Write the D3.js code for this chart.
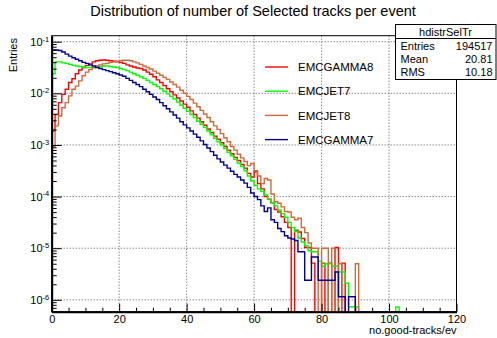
<!DOCTYPE html>
<html>
<head>
<meta charset="utf-8">
<script src="https://cdn.jsdelivr.net/npm/d3@7"></script>
<style>
  body { margin: 0; background: #fff; }
  svg { display: block; font-family: "Liberation Sans", Arial, Helvetica, sans-serif; }
</style>
</head>
<body>
<svg id="chart" width="497" height="338"></svg>
<script>
// bin contents (bin width 1, bins start at 0); bins past the end of a list are empty
const emcGamma8 = [0.00186, 0.00389, 0.00661, 0.00955, 0.0120, 0.0162, 0.0191, 0.0240, 0.0282, 0.0316,
  0.0347, 0.0372, 0.0407, 0.0427, 0.0437, 0.0442, 0.0437, 0.0427, 0.0417, 0.0407,
  0.0398, 0.0380, 0.0355, 0.0339, 0.0324, 0.0309, 0.0302, 0.0282, 0.0257, 0.0234,
  0.0209, 0.0182, 0.0162, 0.0141, 0.0123, 0.0107, 0.00933, 0.00813, 0.00708, 0.00617,
  0.00537, 0.00457, 0.00389, 0.00331, 0.00282, 0.00240, 0.00204, 0.00174, 0.00148, 0.00129,
  0.00110, 9.33e-4, 7.94e-4, 6.76e-4, 5.75e-4, 5.01e-4, 4.17e-4, 3.55e-4, 2.82e-4, 2.40e-4,
  3.02e-4, 1.78e-4, 1.41e-4, 1.0e-4, 8.91e-5, 7.59e-5, 5.62e-5, 5.01e-5, 4.07e-5, 3.16e-5,
  2.51e-5, 0, 2.24e-5, 2.06e-5, 1.54e-5, 1.03e-5, 1.03e-5, 5.14e-6, 0, 0,
  5.14e-6, 0, 5.14e-6, 0, 1.03e-5, 0, 5.14e-6];

const emcJet7 = [0.0240, 0.0407, 0.0407, 0.0389, 0.0380, 0.0363, 0.0347, 0.0339, 0.0331, 0.0324,
  0.0316, 0.0316, 0.0316, 0.0324, 0.0331, 0.0339, 0.0339, 0.0331, 0.0324, 0.0316,
  0.0302, 0.0288, 0.0275, 0.0257, 0.0240, 0.0224, 0.0209, 0.0195, 0.0178, 0.0162,
  0.0148, 0.0135, 0.0123, 0.0110, 0.00977, 0.00871, 0.00776, 0.00676, 0.00589, 0.00513,
  0.00447, 0.00389, 0.00339, 0.00288, 0.00251, 0.00219, 0.00186, 0.00158, 0.00135, 0.00115,
  0.00100, 8.51e-4, 7.24e-4, 6.17e-4, 5.25e-4, 4.47e-4, 3.80e-4, 3.16e-4, 2.51e-4, 2.0e-4,
  1.66e-4, 1.41e-4, 1.26e-4, 1.07e-4, 8.91e-5, 7.59e-5, 6.61e-5, 5.50e-5, 4.68e-5, 3.98e-5,
  3.16e-5, 2.51e-5, 2.09e-5, 1.58e-5, 1.32e-5, 1.12e-5, 8.91e-6, 8.51e-6, 8.51e-6, 5.62e-6,
  4.47e-6, 5.01e-6, 5.01e-6, 4.47e-6, 4.47e-6, 3.47e-6, 3.47e-6, 2.09e-6, 7.24e-7, 7.24e-7,
  7.24e-7, 0, 0, 0, 0, 0, 0, 0, 0, 0,
  0, 0, 7.24e-7];

const emcJet8 = [9.33e-4, 0.00234, 0.00363, 0.00525, 0.00661, 0.00891, 0.0120, 0.0138, 0.0174, 0.0219,
  0.0257, 0.0288, 0.0316, 0.0339, 0.0355, 0.0372, 0.0380, 0.0398, 0.0407, 0.0417,
  0.0427, 0.0437, 0.0437, 0.0427, 0.0407, 0.0389, 0.0363, 0.0339, 0.0316, 0.0295,
  0.0269, 0.0245, 0.0224, 0.0204, 0.0186, 0.0166, 0.0148, 0.0132, 0.0115, 0.0100,
  0.00871, 0.00759, 0.00646, 0.00550, 0.00468, 0.00398, 0.00339, 0.00282, 0.00234, 0.00200,
  0.00166, 0.00138, 0.00115, 9.33e-4, 7.94e-4, 6.61e-4, 5.62e-4, 4.79e-4, 3.98e-4, 4.37e-4,
  3.16e-4, 2.51e-4, 1.78e-4, 2.24e-4, 2.09e-4, 1.12e-4, 7.94e-5, 7.41e-5, 6.31e-5, 5.13e-5,
  5.01e-5, 3.98e-5, 3.55e-5, 3.80e-5, 2.51e-5, 2.0e-5, 1.26e-5, 1.0e-5, 1.0e-5, 0,
  1.0e-5, 1.0e-5, 0, 1.0e-5, 0, 5.0e-6, 0, 0, 0, 0,
  5.0e-6];

const emcGamma7 = [0.0692, 0.0692, 0.0676, 0.0631, 0.0575, 0.0525, 0.0490, 0.0457, 0.0427, 0.0398,
  0.0380, 0.0355, 0.0339, 0.0316, 0.0302, 0.0288, 0.0275, 0.0263, 0.0251, 0.0240,
  0.0226, 0.0214, 0.0195, 0.0178, 0.0162, 0.0148, 0.0135, 0.0120, 0.0107, 0.00955,
  0.00851, 0.00759, 0.00661, 0.00575, 0.00501, 0.00437, 0.00380, 0.00331, 0.00282, 0.00245,
  0.00214, 0.00186, 0.00162, 0.00141, 0.00120, 0.00102, 8.71e-4, 7.41e-4, 6.31e-4, 5.37e-4,
  4.68e-4, 4.07e-4, 3.55e-4, 3.09e-4, 2.69e-4, 2.40e-4, 2.09e-4, 1.82e-4, 1.51e-4, 1.17e-4,
  1.0e-4, 8.71e-5, 6.61e-5, 5.13e-5, 6.03e-5, 3.55e-5, 3.16e-5, 2.40e-5, 2.09e-5, 1.74e-5,
  1.58e-5, 1.51e-5, 1.41e-5, 8.51e-6, 8.51e-6, 2.40e-6, 2.40e-6, 6.76e-6, 6.76e-6, 2.40e-6,
  2.40e-6, 2.40e-6, 2.40e-6, 2.40e-6, 3.47e-6, 1.15e-6, 1.15e-6, 0, 1.15e-6, 1.15e-6];

const seriesNames = ["EMCGAMMA8", "EMCJET7", "EMCJET8", "EMCGAMMA7"];
const seriesData = [emcGamma8, emcJet7, emcJet8, emcGamma7];
const seriesColors = ["#ff0000", "#00ff00", "#d06a3a", "#000099"];

const nBins = 120;
const xMajor = [0, 20, 40, 60, 80, 100, 120];
const xMinor = [5, 10, 15, 25, 30, 35, 45, 50, 55, 65, 70, 75, 85, 90, 95, 105, 110, 115];
const yMajor = [1e-6, 1e-5, 1e-4, 1e-3, 1e-2, 1e-1];

const statsTitle = "hdistrSelTr";
const statsRows = [["Entries", "194517"], ["Mean", "20.81"], ["RMS", "10.18"]];

const svg = d3.select("#chart");
const frame = { left: 51.7, right: 456.5, top: 35.7, bottom: 311.7 };

const x = d3.scaleLinear().domain([0, nBins]).range([frame.left, frame.right]);
const y = d3.scaleLog().domain([Math.pow(10, -6.23), Math.pow(10, -0.884)]).range([frame.bottom, frame.top]);

// title
svg.append("text")
  .attr("x", 253).attr("y", 16)
  .attr("text-anchor", "middle")
  .attr("font-size", 14.5)
  .text("Distribution of number of Selected tracks per event");

// grid
const grid = svg.append("g").attr("stroke", "#555").attr("stroke-dasharray", "1,2").attr("stroke-width", 1);
grid.selectAll(".gx").data(xMajor.filter(d => d > 0 && d < nBins)).enter().append("line")
  .attr("x1", d => x(d)).attr("x2", d => x(d))
  .attr("y1", frame.top).attr("y2", frame.bottom);
grid.selectAll(".gy").data(yMajor).enter().append("line")
  .attr("x1", frame.left).attr("x2", frame.right)
  .attr("y1", d => y(d)).attr("y2", d => y(d));

// frame
svg.append("rect")
  .attr("x", frame.left).attr("y", frame.top)
  .attr("width", frame.right - frame.left).attr("height", frame.bottom - frame.top)
  .attr("fill", "none").attr("stroke", "#000").attr("stroke-width", 1);

// histograms
svg.append("clipPath").attr("id", "plotclip").append("rect")
  .attr("x", frame.left).attr("y", frame.top - 1)
  .attr("width", frame.right - frame.left).attr("height", frame.bottom - frame.top + 1);

const step = d3.line()
  .x(d => x(d[0]))
  .y(d => d[1] > 0 ? y(d[1]) : frame.bottom)
  .curve(d3.curveStepAfter);

seriesData.forEach((vals, k) => {
  const pts = d3.range(nBins).map(i => [i, vals[i] || 0]);
  pts.push([nBins, pts[nBins - 1][1]]);
  svg.append("path")
    .attr("clip-path", "url(#plotclip)")
    .attr("d", step(pts))
    .attr("fill", "none")
    .attr("stroke", seriesColors[k])
    .attr("stroke-width", 1.4);
});

// x axis
const xAxis = svg.append("g").attr("transform", `translate(0,${frame.bottom})`)
  .call(d3.axisBottom(x).tickValues(xMajor).tickSize(-8).tickSizeOuter(0).tickPadding(4).tickFormat(d3.format("d")));
svg.append("g").attr("transform", `translate(0,${frame.bottom})`)
  .call(d3.axisBottom(x).tickValues(xMinor).tickSize(-4).tickSizeOuter(0).tickFormat(""))
  .select(".domain").remove();
xAxis.select(".domain").attr("stroke-width", 2);
xAxis.selectAll("text").attr("font-size", 11).attr("font-family", "Liberation Sans, Arial, sans-serif").attr("fill", "#000");

// y axis (log)
const yMinor = [];
for (let e = -7; e <= -1; e++) for (let m = 2; m <= 9; m++) {
  const v = m * Math.pow(10, e);
  if (v >= y.domain()[0] && v <= y.domain()[1]) yMinor.push(v);
}
const yAxis = svg.append("g").attr("transform", `translate(${frame.left},0)`)
  .call(d3.axisLeft(y).tickValues(yMajor).tickSize(-10).tickSizeOuter(0).tickPadding(2.5));
svg.append("g").attr("transform", `translate(${frame.left},0)`)
  .call(d3.axisLeft(y).tickValues(yMinor).tickSize(-5).tickSizeOuter(0).tickFormat(""))
  .select(".domain").remove();
yAxis.select(".domain").attr("stroke-width", 2);
yAxis.selectAll("text").each(function (d) {
  const t = d3.select(this).text(null)
    .attr("font-size", 11).attr("font-family", "Liberation Sans, Arial, sans-serif").attr("fill", "#000");
  t.append("tspan").text("10");
  t.append("tspan").attr("font-size", 7.5).attr("dy", "-0.55em").text(String(Math.round(Math.log10(d))));
});

// axis titles
svg.append("text")
  .attr("transform", "translate(16.5,38) rotate(-90)")
  .attr("text-anchor", "end")
  .attr("font-size", 11)
  .text("Entries");
svg.append("text")
  .attr("x", frame.right).attr("y", 334)
  .attr("text-anchor", "end")
  .attr("font-size", 11)
  .text("no.good-tracks/ev");

// legend
const legend = svg.append("g");
seriesNames.forEach((name, k) => {
  const ly = 67 + k * 24.2;
  legend.append("line")
    .attr("x1", 265).attr("x2", 288).attr("y1", ly).attr("y2", ly)
    .attr("stroke", seriesColors[k]).attr("stroke-width", 1.4);
  legend.append("text")
    .attr("x", 298).attr("y", ly + 4.2)
    .attr("font-size", 11.5)
    .text(name);
});

// stats box
const stats = svg.append("g");
stats.append("rect")
  .attr("x", 395.5).attr("y", 24.5).attr("width", 100.5).attr("height", 55)
  .attr("fill", "#fff").attr("stroke", "#000").attr("stroke-width", 1);
stats.append("line")
  .attr("x1", 395.5).attr("x2", 496).attr("y1", 38.5).attr("y2", 38.5)
  .attr("stroke", "#000");
stats.append("text")
  .attr("x", 445.5).attr("y", 35.5).attr("text-anchor", "middle")
  .attr("font-size", 11).text(statsTitle);
statsRows.forEach((r, k) => {
  const ry = 49.5 + k * 13.3;
  stats.append("text").attr("x", 400.5).attr("y", ry).attr("font-size", 11).text(r[0]);
  stats.append("text").attr("x", 492.5).attr("y", ry).attr("text-anchor", "end").attr("font-size", 11).text(r[1]);
});
</script>
</body>
</html>
